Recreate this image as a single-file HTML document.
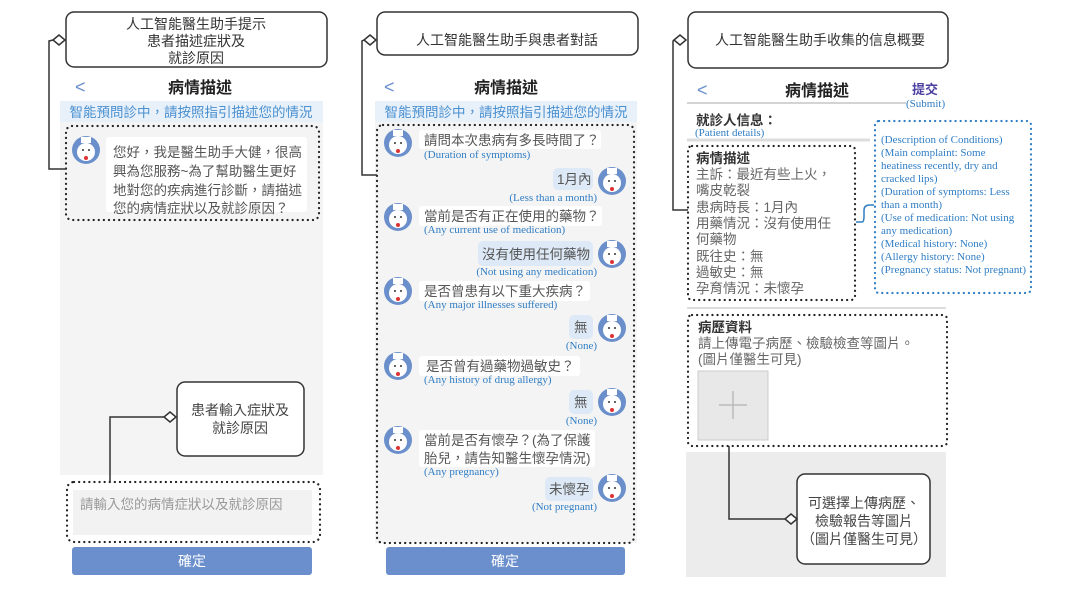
<!DOCTYPE html>
<html><head><meta charset="utf-8"><style>
html,body{margin:0;padding:0;background:#fff;}
svg{display:block;}
.cj{font-family:"Liberation Sans","Noto Sans CJK TC",sans-serif;}
.en{font-family:"Liberation Serif",serif;fill:#2f7dc4;font-size:11px;}
</style></head><body>
<svg width="1080" height="602" viewBox="0 0 1080 602" xmlns="http://www.w3.org/2000/svg" class="cj">
<defs>
<g id="av"><circle r="14" fill="#6b8fcb"/><circle cy="2" r="9" fill="#fff"/><rect x="-5" y="-13" width="10" height="6" fill="#fff"/><circle cx="-3" cy="0" r="1" fill="#333"/><circle cx="3" cy="0" r="1" fill="#333"/><circle cy="8" r="2" fill="#d33"/></g>
</defs>

<!-- ============ PANEL 1 ============ -->
<rect x="60" y="101" width="263" height="374" fill="#f4f4f4"/>
<rect x="60" y="101" width="263" height="21" fill="#e8f1fa"/>
<text x="75" y="93" font-size="18" fill="#6b8fcb">&lt;</text>
<text x="200" y="93" font-size="16" font-weight="bold" fill="#222" text-anchor="middle">病情描述</text>
<text x="191" y="117" font-size="13.5" fill="#4a90d0" text-anchor="middle">智能預問診中，請按照指引描述您的情況</text>
<rect x="66" y="126" width="253" height="94" rx="6" fill="none" stroke="#222" stroke-width="2.2" stroke-dasharray="0.1 5" stroke-linecap="round"/>
<use href="#av" x="86" y="150"/>
<rect x="106" y="137" width="201" height="75" rx="3" fill="#fff"/>
<g font-size="13.5" fill="#555">
<text x="113" y="157">您好，我是醫生助手大健，很高</text>
<text x="113" y="176">興為您服務~為了幫助醫生更好</text>
<text x="113" y="195">地對您的疾病進行診斷，請描述</text>
<text x="113" y="213">您的病情症狀以及就診原因？</text>
</g>
<!-- callout top -->
<rect x="66" y="12" width="261" height="55" rx="8" fill="#fff" stroke="#333" stroke-width="1.5"/>
<g font-size="14" fill="#333" text-anchor="middle">
<text x="196" y="29">人工智能醫生助手提示</text>
<text x="196" y="46">患者描述症狀及</text>
<text x="196" y="63">就診原因</text>
</g>
<polyline points="53,40 49,41 49,169 66,169" fill="none" stroke="#333" stroke-width="1.5"/>
<polygon points="53,40 59,35 65,40 59,45" fill="#fff" stroke="#333" stroke-width="1.5"/>
<!-- callout bottom -->
<rect x="177" y="382" width="127" height="74" rx="8" fill="#fff" stroke="#333" stroke-width="1.5"/>
<g font-size="14" fill="#444" text-anchor="middle">
<text x="240" y="415">患者輸入症狀及</text>
<text x="240" y="433">就診原因</text>
</g>
<polyline points="164,417 110,417 110,482" fill="none" stroke="#333" stroke-width="1.5"/>
<polygon points="164,417 170,412 176,417 170,422" fill="#fff" stroke="#333" stroke-width="1.5"/>
<rect x="67" y="482" width="253" height="60" rx="7" fill="none" stroke="#222" stroke-width="2.2" stroke-dasharray="0.1 5" stroke-linecap="round"/>
<rect x="73" y="490" width="239" height="45" fill="#f2f2f2"/>
<text x="80" y="509" font-size="13.5" fill="#999">請輸入您的病情症狀以及就診原因</text>
<rect x="72" y="547" width="240" height="28" rx="3" fill="#6a8fcc"/>
<text x="192" y="566" font-size="14" fill="#fff" text-anchor="middle">確定</text>

<!-- ============ PANEL 2 ============ -->
<rect x="375" y="101" width="262" height="442" fill="#f4f4f4"/>
<rect x="375" y="101" width="262" height="21" fill="#e8f1fa"/>
<text x="384" y="93" font-size="18" fill="#6b8fcb">&lt;</text>
<text x="506" y="93" font-size="16" font-weight="bold" fill="#222" text-anchor="middle">病情描述</text>
<text x="506" y="117" font-size="13.5" fill="#4a90d0" text-anchor="middle">智能預問診中，請按照指引描述您的情況</text>
<rect x="377" y="125" width="257" height="418" rx="6" fill="none" stroke="#222" stroke-width="2.2" stroke-dasharray="0.1 5" stroke-linecap="round"/>
<rect x="377" y="12" width="261" height="43" rx="8" fill="#fff" stroke="#333" stroke-width="1.5"/>
<text x="507" y="45" font-size="14" fill="#333" text-anchor="middle">人工智能醫生助手與患者對話</text>
<polyline points="364,40 362,41 362,175 377,175" fill="none" stroke="#333" stroke-width="1.5"/>
<polygon points="364,40 370,35 376,40 370,45" fill="#fff" stroke="#333" stroke-width="1.5"/>
<g font-size="13.5" fill="#555">
<!-- q1 -->
<use href="#av" x="398" y="143"/>
<rect x="419" y="130" width="182" height="19" rx="3" fill="#fff"/>
<text x="424" y="145">請問本次患病有多長時間了？</text>
<text x="424" y="158" class="en">(Duration of symptoms)</text>
<use href="#av" x="612" y="181"/>
<rect x="553" y="168" width="40" height="22" rx="5" fill="#dde9f6"/>
<text x="557" y="184">1月內</text>
<text x="597" y="201" class="en" text-anchor="end">(Less than a month)</text>
<use href="#av" x="398" y="217"/>
<rect x="419" y="206" width="183" height="20" rx="3" fill="#fff"/>
<text x="424" y="221">當前是否有正在使用的藥物？</text>
<text x="424" y="233" class="en">(Any current use of medication)</text>
<use href="#av" x="612" y="254"/>
<rect x="478" y="241" width="115" height="25" rx="5" fill="#dde9f6"/>
<text x="482" y="259">沒有使用任何藥物</text>
<text x="597" y="275" class="en" text-anchor="end">(Not using any medication)</text>
<use href="#av" x="398" y="291"/>
<rect x="419" y="281" width="171" height="20" rx="3" fill="#fff"/>
<text x="424" y="296">是否曾患有以下重大疾病？</text>
<text x="424" y="308" class="en">(Any major illnesses suffered)</text>
<use href="#av" x="612" y="328"/>
<rect x="569" y="315" width="24" height="24" rx="5" fill="#dde9f6"/>
<text x="574" y="332">無</text>
<text x="597" y="349" class="en" text-anchor="end">(None)</text>
<use href="#av" x="398" y="366"/>
<rect x="419" y="356" width="161" height="20" rx="3" fill="#fff"/>
<text x="426" y="371">是否曾有過藥物過敏史？</text>
<text x="424" y="383" class="en">(Any history of drug allergy)</text>
<use href="#av" x="612" y="402"/>
<rect x="569" y="390" width="24" height="24" rx="5" fill="#dde9f6"/>
<text x="574" y="407">無</text>
<text x="597" y="424" class="en" text-anchor="end">(None)</text>
<use href="#av" x="398" y="440"/>
<rect x="419" y="430" width="176" height="37" rx="3" fill="#fff"/>
<text x="424" y="445">當前是否有懷孕？(為了保護</text>
<text x="424" y="463">胎兒，請告知醫生懷孕情況)</text>
<text x="424" y="475" class="en">(Any pregnancy)</text>
<use href="#av" x="612" y="488"/>
<rect x="545" y="477" width="48" height="24" rx="5" fill="#dde9f6"/>
<text x="549" y="494">未懷孕</text>
<text x="597" y="510" class="en" text-anchor="end">(Not pregnant)</text>
</g>
<rect x="386" y="547" width="239" height="28" rx="3" fill="#6a8fcc"/>
<text x="505" y="566" font-size="14" fill="#fff" text-anchor="middle">確定</text>

<!-- ============ PANEL 3 ============ -->
<rect x="688" y="12" width="260" height="56" rx="8" fill="#fff" stroke="#333" stroke-width="1.5"/>
<text x="820" y="45" font-size="14" fill="#333" text-anchor="middle">人工智能醫生助手收集的信息概要</text>
<polyline points="674,40 673,41 673,210 688,210" fill="none" stroke="#333" stroke-width="1.5"/>
<polygon points="674,40 680,35 686,40 680,45" fill="#fff" stroke="#333" stroke-width="1.5"/>
<text x="697" y="96" font-size="18" fill="#6b8fcb">&lt;</text>
<text x="817" y="96" font-size="16" font-weight="bold" fill="#222" text-anchor="middle">病情描述</text>
<text x="912" y="94" font-size="13" font-weight="bold" fill="#4a3fa0">提交</text>
<line x1="687" y1="103" x2="906" y2="103" stroke="#aaa" stroke-width="1"/>
<text x="906" y="107" class="en" font-size="10">(Submit)</text>
<text x="696" y="125" font-size="13.5" font-weight="bold" fill="#333">就診人信息：</text>
<text x="695" y="136" class="en">(Patient details)</text>
<line x1="687" y1="140" x2="870" y2="140" stroke="#ddd" stroke-width="3"/>
<rect x="688" y="146" width="167" height="154" rx="4" fill="none" stroke="#222" stroke-width="2.2" stroke-dasharray="0.1 5" stroke-linecap="round"/>
<g font-size="13.5" fill="#666">
<text x="696" y="163" font-weight="bold" fill="#333">病情描述</text>
<text x="696" y="179">主訴：最近有些上火，</text>
<text x="696" y="195">嘴皮乾裂</text>
<text x="696" y="212">患病時長：1月內</text>
<text x="696" y="228">用藥情況：沒有使用任</text>
<text x="696" y="244">何藥物</text>
<text x="696" y="261">既往史：無</text>
<text x="696" y="277">過敏史：無</text>
<text x="696" y="293">孕育情況：未懷孕</text>
</g>
<rect x="875" y="121" width="156" height="172" rx="4" fill="none" stroke="#2f7dc4" stroke-width="2.2" stroke-dasharray="0.1 5" stroke-linecap="round"/>
<path d="M856,222 L862,222 Q864,222 864,216 L864,210 Q864,205 870,205 L874,205" fill="none" stroke="#2f7dc4" stroke-width="1.5"/>
<g class="en">
<text x="881" y="143">(Description of Conditions)</text>
<text x="881" y="156">(Main complaint: Some</text>
<text x="881" y="169">heatiness recently, dry and</text>
<text x="881" y="182">cracked lips)</text>
<text x="881" y="195">(Duration of symptoms: Less</text>
<text x="881" y="208">than a month)</text>
<text x="881" y="221">(Use of medication: Not using</text>
<text x="881" y="234">any medication)</text>
<text x="881" y="247">(Medical history: None)</text>
<text x="881" y="260">(Allergy history: None)</text>
<text x="881" y="273">(Pregnancy status: Not pregnant)</text>
</g>
<line x1="687" y1="308" x2="946" y2="308" stroke="#ddd" stroke-width="2"/>
<rect x="688" y="315" width="259" height="131" rx="4" fill="none" stroke="#222" stroke-width="2.2" stroke-dasharray="0.1 5" stroke-linecap="round"/>
<text x="698" y="332" font-size="13.5" font-weight="bold" fill="#333">病歷資料</text>
<text x="698" y="348" font-size="13.5" fill="#666">請上傳電子病歷、檢驗檢查等圖片。</text>
<text x="698" y="364" font-size="13.5" fill="#666">(圖片僅醫生可見)</text>
<rect x="698" y="371" width="70" height="69" fill="#e8e8e8" stroke="#ccc" stroke-width="1"/>
<line x1="719" y1="405" x2="747" y2="405" stroke="#bbb" stroke-width="1.5"/>
<line x1="733" y1="391" x2="733" y2="419" stroke="#bbb" stroke-width="1.5"/>
<rect x="686" y="452" width="260" height="125" fill="#ececec"/>
<rect x="797" y="474" width="133" height="90" rx="8" fill="#fff" stroke="#333" stroke-width="1.5"/>
<g font-size="14" fill="#444" text-anchor="middle">
<text x="864" y="508">可選擇上傳病歷、</text>
<text x="864" y="526">檢驗報告等圖片</text>
<text x="864" y="544">（圖片僅醫生可見）</text>
</g>
<polyline points="729,446 729,519 785,519" fill="none" stroke="#333" stroke-width="1.5"/>
<polygon points="785,519 791,514 797,519 791,524" fill="#fff" stroke="#333" stroke-width="1.5"/>
</svg>
</body></html>
